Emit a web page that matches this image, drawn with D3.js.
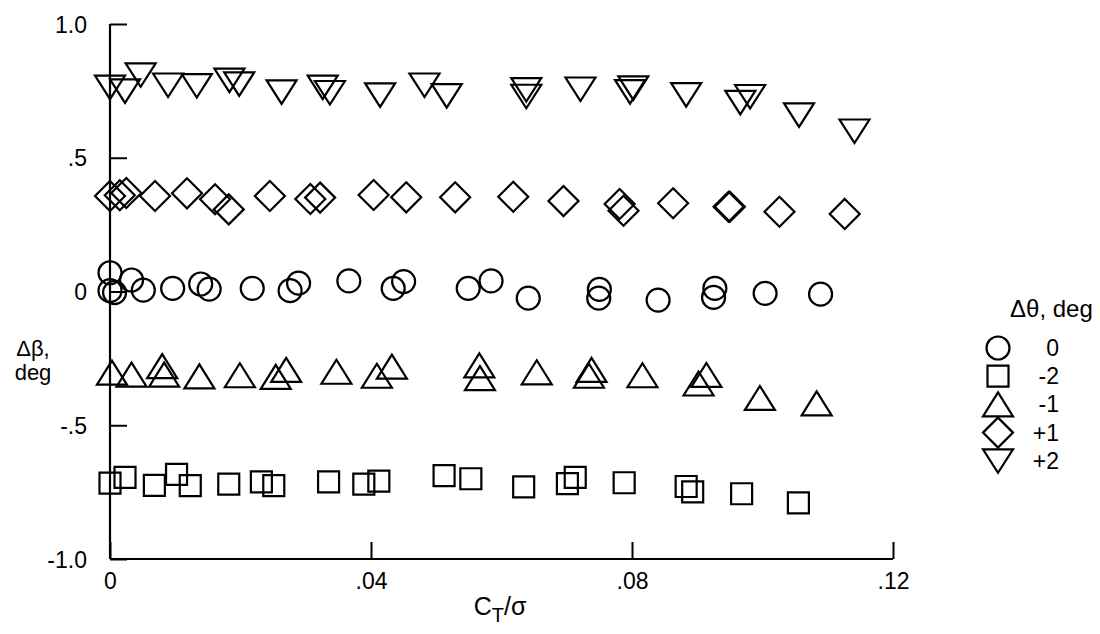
<!DOCTYPE html>
<html>
<head>
<meta charset="utf-8">
<script src="https://cdn.jsdelivr.net/npm/d3@7"></script>
<style>
  body { margin: 0; background: #fff; }
  text { font-family: "Liberation Sans", Arial, Helvetica, sans-serif; fill: #000; }
</style>
</head>
<body>
<div id="chart"></div>
<script>
// data: C_T/sigma and delta beta (deg) for each delta theta
var circleCT = [0, 0, 0.0007, 0.0033, 0.0051, 0.0096, 0.0139, 0.0152, 0.0218, 0.0276, 0.0289, 0.0366,
    0.0434, 0.045, 0.0549, 0.0584, 0.0641, 0.075, 0.0749, 0.084, 0.0927, 0.0925, 0.1004, 0.1089];
var circleDB = [0.07, 0.003, -0.004, 0.043, 0.005, 0.012, 0.028, 0.009, 0.012, 0.003, 0.031, 0.04,
    0.012, 0.037, 0.012, 0.04, -0.025, 0.008, -0.025, -0.032, 0.012, -0.022, -0.007, -0.01];

var squareCT = [0, 0.0023, 0.0068, 0.0102, 0.0123, 0.0182, 0.0232, 0.0251, 0.0335, 0.0389, 0.0412,
    0.0512, 0.0553, 0.0634, 0.0701, 0.0713, 0.0788, 0.0883, 0.0893, 0.0968, 0.1055];
var squareDB = [-0.716, -0.695, -0.725, -0.684, -0.726, -0.72, -0.712, -0.726, -0.712, -0.72, -0.709,
    -0.688, -0.70, -0.73, -0.718, -0.695, -0.715, -0.729, -0.749, -0.756, -0.79];

var triUpCT = [0.0003, 0.0033, 0.008, 0.0083, 0.0137, 0.0199, 0.0254, 0.027, 0.0347, 0.0409, 0.0432,
    0.0566, 0.0567, 0.0654, 0.0738, 0.0734, 0.0816, 0.0914, 0.0902, 0.0996, 0.1083];
var triUpDB = [-0.303, -0.311, -0.279, -0.311, -0.317, -0.313, -0.319, -0.293, -0.30, -0.315, -0.281,
    -0.276, -0.324, -0.302, -0.293, -0.315, -0.313, -0.312, -0.344, -0.398, -0.418];

var diamondCT = [0, 0.0015, 0.0025, 0.0069, 0.0118, 0.0161, 0.0182, 0.0245, 0.0307, 0.0322, 0.0404,
    0.0454, 0.0529, 0.0618, 0.0695, 0.0781, 0.0787, 0.0863, 0.0948, 0.095, 0.1026, 0.1126];
var diamondDB = [0.357, 0.36, 0.368, 0.357, 0.367, 0.345, 0.307, 0.357, 0.346, 0.351, 0.361,
    0.352, 0.352, 0.354, 0.338, 0.327, 0.302, 0.33, 0.317, 0.317, 0.298, 0.29];

var triDownCT = [0, 0.0023, 0.0047, 0.0089, 0.0133, 0.0183, 0.0198, 0.0263, 0.0326, 0.0337, 0.0414,
    0.0482, 0.0516, 0.0638, 0.0638, 0.0721, 0.0802, 0.0797, 0.0883, 0.0966, 0.0981, 0.1056, 0.1141];
var triDownDB = [0.764, 0.75, 0.81, 0.772, 0.77, 0.79, 0.776, 0.746, 0.764, 0.744, 0.735,
    0.772, 0.732, 0.755, 0.73, 0.757, 0.761, 0.747, 0.736, 0.707, 0.729, 0.66, 0.60];

var xTicks = [0, 0.04, 0.08, 0.12];
var xTickLabels = ['0', '.04', '.08', '.12'];
var yTicks = [1.0, 0.5, 0, -0.5, -1.0];
var yTickLabels = ['1.0', '.5', '0', '-.5', '-1.0'];

var legendShapes = ['circle', 'square', 'triUp', 'diamond', 'triDown'];
var legendLabels = ['0', '-2', '-1', '+1', '+2'];

var series = [
    { shape: 'circle', ct: circleCT, db: circleDB },
    { shape: 'square', ct: squareCT, db: squareDB },
    { shape: 'triUp', ct: triUpCT, db: triUpDB },
    { shape: 'diamond', ct: diamondCT, db: diamondDB },
    { shape: 'triDown', ct: triDownCT, db: triDownDB }
];

var svgWidth = 1100;
var svgHeight = 634;

var svg = d3.select('#chart').append('svg')
    .attr('width', svgWidth)
    .attr('height', svgHeight);

// scales
var x = d3.scaleLinear().domain([0, 0.12]).range([110, 893]);
var y = d3.scaleLinear().domain([-1, 1]).range([559, 24]);

// marker outlines, centred on (0,0)
function shapePath(shape) {
    var p = d3.path();
    if (shape === 'circle') {
        p.arc(0, 0, 11.5, 0, 2 * Math.PI);
    } else if (shape === 'square') {
        p.rect(-10.5, -10.5, 21, 21);
    } else if (shape === 'triUp') {
        p.moveTo(0, -12); p.lineTo(15, 12); p.lineTo(-15, 12); p.closePath();
    } else if (shape === 'triDown') {
        p.moveTo(-15, -11.5); p.lineTo(15, -11.5); p.lineTo(0, 12); p.closePath();
    } else {
        p.moveTo(0, -15); p.lineTo(15, 0); p.lineTo(0, 15); p.lineTo(-15, 0); p.closePath();
    }
    return p.toString();
}

// axes (inward ticks, no frame on top/right)
var xAxis = svg.append('g')
    .attr('transform', `translate(0, ${y(-1)})`)
    .call(d3.axisBottom(x).tickValues(xTicks).tickSize(-17).tickFormat((d, i) => xTickLabels[i]));

var yAxis = svg.append('g')
    .attr('transform', `translate(${x(0)}, 0)`)
    .call(d3.axisLeft(y).tickValues(yTicks).tickSize(-17).tickFormat((d, i) => yTickLabels[i]));

[xAxis, yAxis].forEach(function(ax) {
    ax.select('.domain').attr('stroke', '#000').attr('stroke-width', 2.2);
    ax.selectAll('.tick line').attr('stroke', '#000').attr('stroke-width', 2);
    ax.selectAll('.tick text').attr('font-size', '23px').attr('fill', '#000');
});
xAxis.select('.domain').attr('d', `M${x(0)},0H${x(0.12)}`);
yAxis.select('.domain').attr('d', `M0,${y(1)}V${y(-1)}`);
xAxis.selectAll('.tick text').attr('y', 14).attr('dy', '0.71em');
yAxis.selectAll('.tick text').attr('x', -23).attr('dy', '0.35em');

// markers
series.forEach(function(s) {
    svg.append('g').selectAll('path')
        .data(s.ct.map((c, i) => [c, s.db[i]]))
        .enter()
        .append('path')
        .attr('d', shapePath(s.shape))
        .attr('transform', d => `translate(${x(d[0])}, ${y(d[1])})`)
        .attr('fill', 'none')
        .attr('stroke', '#000')
        .attr('stroke-width', 2.2);
});

// axis titles
var xTitle = svg.append('text')
    .attr('x', 500)
    .attr('y', 615)
    .attr('text-anchor', 'middle')
    .attr('font-size', '25px');
xTitle.append('tspan').text('C');
xTitle.append('tspan').attr('font-size', '20px').attr('dy', 7).text('T');
xTitle.append('tspan').attr('dy', -7).text('/σ');

svg.append('text')
    .attr('x', 33).attr('y', 356)
    .attr('text-anchor', 'middle')
    .attr('font-size', '22px')
    .text('Δβ,');
svg.append('text')
    .attr('x', 33).attr('y', 380)
    .attr('text-anchor', 'middle')
    .attr('font-size', '22px')
    .text('deg');

// legend
svg.append('text')
    .attr('x', 1010).attr('y', 317)
    .attr('font-size', '24px')
    .text('Δθ, deg');

var legend = svg.append('g').selectAll('g')
    .data(legendShapes)
    .enter()
    .append('g')
    .attr('transform', (d, i) => `translate(998, ${348 + i * 28.2})`);

legend.append('path')
    .attr('d', d => shapePath(d))
    .attr('fill', 'none')
    .attr('stroke', '#000')
    .attr('stroke-width', 2.2);

legend.append('text')
    .attr('x', 61)
    .attr('dy', '0.35em')
    .attr('text-anchor', 'end')
    .attr('font-size', '23px')
    .text((d, i) => legendLabels[i]);
</script>
</body>
</html>
